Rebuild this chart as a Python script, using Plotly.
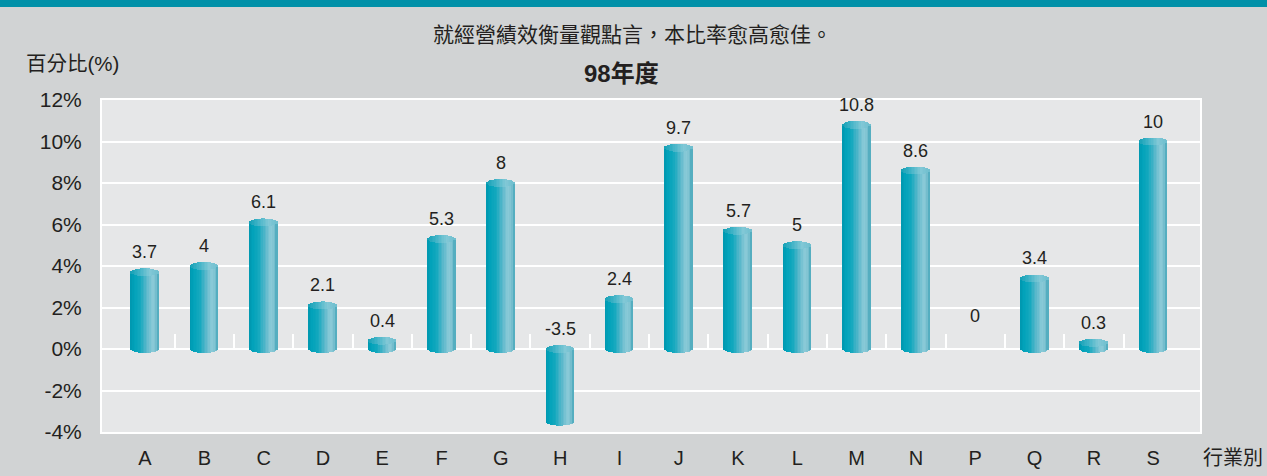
import math
import plotly.graph_objects as go

# ---- data ----
categories = ["A", "B", "C", "D", "E", "F", "G", "H", "I", "J",
              "K", "L", "M", "N", "P", "Q", "R", "S"]
values = [3.7, 4, 6.1, 2.1, 0.4, 5.3, 8, -3.5, 2.4, 9.7,
          5.7, 5, 10.8, 8.6, 0, 3.4, 0.3, 10]
y_ticks = [-4, -2, 0, 2, 4, 6, 8, 10, 12]

subtitle = "就經營績效衡量觀點言，本比率愈高愈佳。"
title = "98年度"
y_title = "百分比(%)"
x_title = "行業別"

# ---- layout geometry ----
W, H = 1267, 476
L, R, T, B = 102, 67, 100, 44
PW, PH = W - L - R, H - T - B
YMIN, YMAX = -4, 12
XMIN, XMAX = -0.725, 17.79

FONT = "Liberation Sans, Arial, Noto Sans CJK TC, sans-serif"
TXT = "#231F20"

# cylinder appearance
BAR_W = 0.47
N_STRIPES = 18
CAP_H = 0.19  # half height of ellipse in data units (%)


def lerp_color(stops, t):
    for i in range(len(stops) - 1):
        t0, c0 = stops[i]
        t1, c1 = stops[i + 1]
        if t0 <= t <= t1:
            f = (t - t0) / (t1 - t0) if t1 > t0 else 0
            c = [round(c0[j] + (c1[j] - c0[j]) * f) for j in range(3)]
            return "rgb(%d,%d,%d)" % tuple(c)
    c = stops[-1][1]
    return "rgb(%d,%d,%d)" % tuple(c)


body_stops = [(0.0, (0, 150, 174)), (0.12, (0, 162, 186)), (0.35, (20, 168, 190)),
              (0.6, (95, 185, 204)), (0.78, (140, 203, 216)), (0.9, (125, 194, 209)),
              (1.0, (70, 166, 186))]
cap_stops = [(0.0, (20, 160, 182)), (0.3, (60, 178, 198)), (0.7, (130, 200, 214)),
             (1.0, (110, 190, 206))]

fig = go.Figure()

xs = list(range(len(categories)))
sw = BAR_W / N_STRIPES
for k in range(N_STRIPES):
    t = (k + 0.5) / N_STRIPES
    u = 2 * t - 1
    s = CAP_H * math.sqrt(max(0.0, 1 - u * u))
    off = -BAR_W / 2 + k * sw - sw * 0.08
    body_base, body_len, cap_base, cap_len = [], [], [], []
    for v in values:
        if v == 0:
            body_base.append(None); body_len.append(None)
            cap_base.append(None); cap_len.append(None)
            continue
        top, bot = max(v, 0), min(v, 0)
        body_base.append(bot - s)
        body_len.append(top - bot + s)
        cap_base.append(top - s)
        cap_len.append(2 * s)
    fig.add_trace(go.Bar(x=xs, y=body_len, base=body_base, width=sw * 1.16, offset=off,
                         marker=dict(color=lerp_color(body_stops, t), line=dict(width=0)),
                         hoverinfo="skip", showlegend=False))
    fig.add_trace(go.Bar(x=xs, y=cap_len, base=cap_base, width=sw * 1.16, offset=off,
                         marker=dict(color=lerp_color(cap_stops, t), line=dict(width=0)),
                         hoverinfo="skip", showlegend=False))

# helper trace for the zero-line tick axis
fig.add_trace(go.Scatter(x=[XMIN], y=[0], xaxis="x2", mode="markers",
                         marker=dict(opacity=0), hoverinfo="skip", showlegend=False))

annotations = []
for i, v in enumerate(values):
    annotations.append(dict(x=i, y=max(v, 0), xref="x", yref="y", text=str(v),
                            showarrow=False, yanchor="middle",
                            yshift=33 if v == 0 else 20,
                            font=dict(family=FONT, size=18, color=TXT)))


def px_to_paper_x(px):
    return (px - L) / PW


def px_to_paper_y(py):
    return (H - B - py) / PH


annotations += [
    dict(text=subtitle, x=px_to_paper_x(632), y=px_to_paper_y(33), xref="paper", yref="paper",
         showarrow=False, xanchor="center", yanchor="middle",
         font=dict(family="Noto Sans CJK TC, sans-serif", size=21, color=TXT)),
    dict(text="<b>" + title + "</b>", x=px_to_paper_x(621), y=px_to_paper_y(73), xref="paper",
         yref="paper", showarrow=False, xanchor="center", yanchor="middle",
         font=dict(family=FONT, size=24, color=TXT)),
    dict(text=y_title, x=px_to_paper_x(24), y=px_to_paper_y(64), xref="paper", yref="paper",
         showarrow=False, xanchor="left", yanchor="middle",
         font=dict(family=FONT, size=20.5, color=TXT)),
    dict(text=x_title, x=px_to_paper_x(1201), y=px_to_paper_y(458), xref="paper", yref="paper",
         showarrow=False, xanchor="left", yanchor="middle",
         font=dict(family=FONT, size=20, color=TXT)),
]

shapes = [
    dict(type="rect", xref="paper", yref="paper", layer="above",
         x0=px_to_paper_x(0), x1=px_to_paper_x(W), y0=px_to_paper_y(7), y1=px_to_paper_y(0),
         fillcolor="#0090A8", line=dict(width=0)),
]

zero_pos = (0 - YMIN) / (YMAX - YMIN)

fig.update_layout(
    width=W, height=H,
    margin=dict(l=L, r=R, t=T, b=B, pad=0, autoexpand=False),
    paper_bgcolor="#D1D3D4",
    plot_bgcolor="#E6E7E8",
    barmode="overlay",
    bargap=0,
    showlegend=False,
    annotations=annotations,
    shapes=shapes,
    xaxis=dict(range=[XMIN, XMAX], tickmode="array", tickvals=xs, ticktext=categories,
               showgrid=False, zeroline=False, showline=True, mirror=True, automargin=False,
               linecolor="white", linewidth=2, ticks="", ticklabelstandoff=7,
               tickfont=dict(family=FONT, size=20, color=TXT), fixedrange=True),
    xaxis2=dict(range=[XMIN, XMAX], overlaying="x", anchor="free", position=zero_pos,
                tickmode="array", tickvals=[i + 0.5 for i in xs[:-1]], ticks="inside",
                ticklen=15, tickwidth=2, tickcolor="white", showticklabels=False,
                automargin=False,
                showgrid=False, zeroline=False, showline=False, fixedrange=True),
    yaxis=dict(range=[YMIN, YMAX], tickmode="array", tickvals=y_ticks,
               ticktext=["%d%%" % v for v in y_ticks], automargin=False,
               showgrid=True, gridcolor="white", gridwidth=2, zeroline=True,
               zerolinecolor="white", zerolinewidth=2, showline=True, mirror=True,
               linecolor="white", linewidth=2, ticks="", ticklabelstandoff=14,
               tickfont=dict(family=FONT, size=21, color=TXT), fixedrange=True),
)

fig.write_html("out.html", config={"displayModeBar": False},
               post_script="document.body.style.margin='0';document.body.style.overflow='hidden';")
